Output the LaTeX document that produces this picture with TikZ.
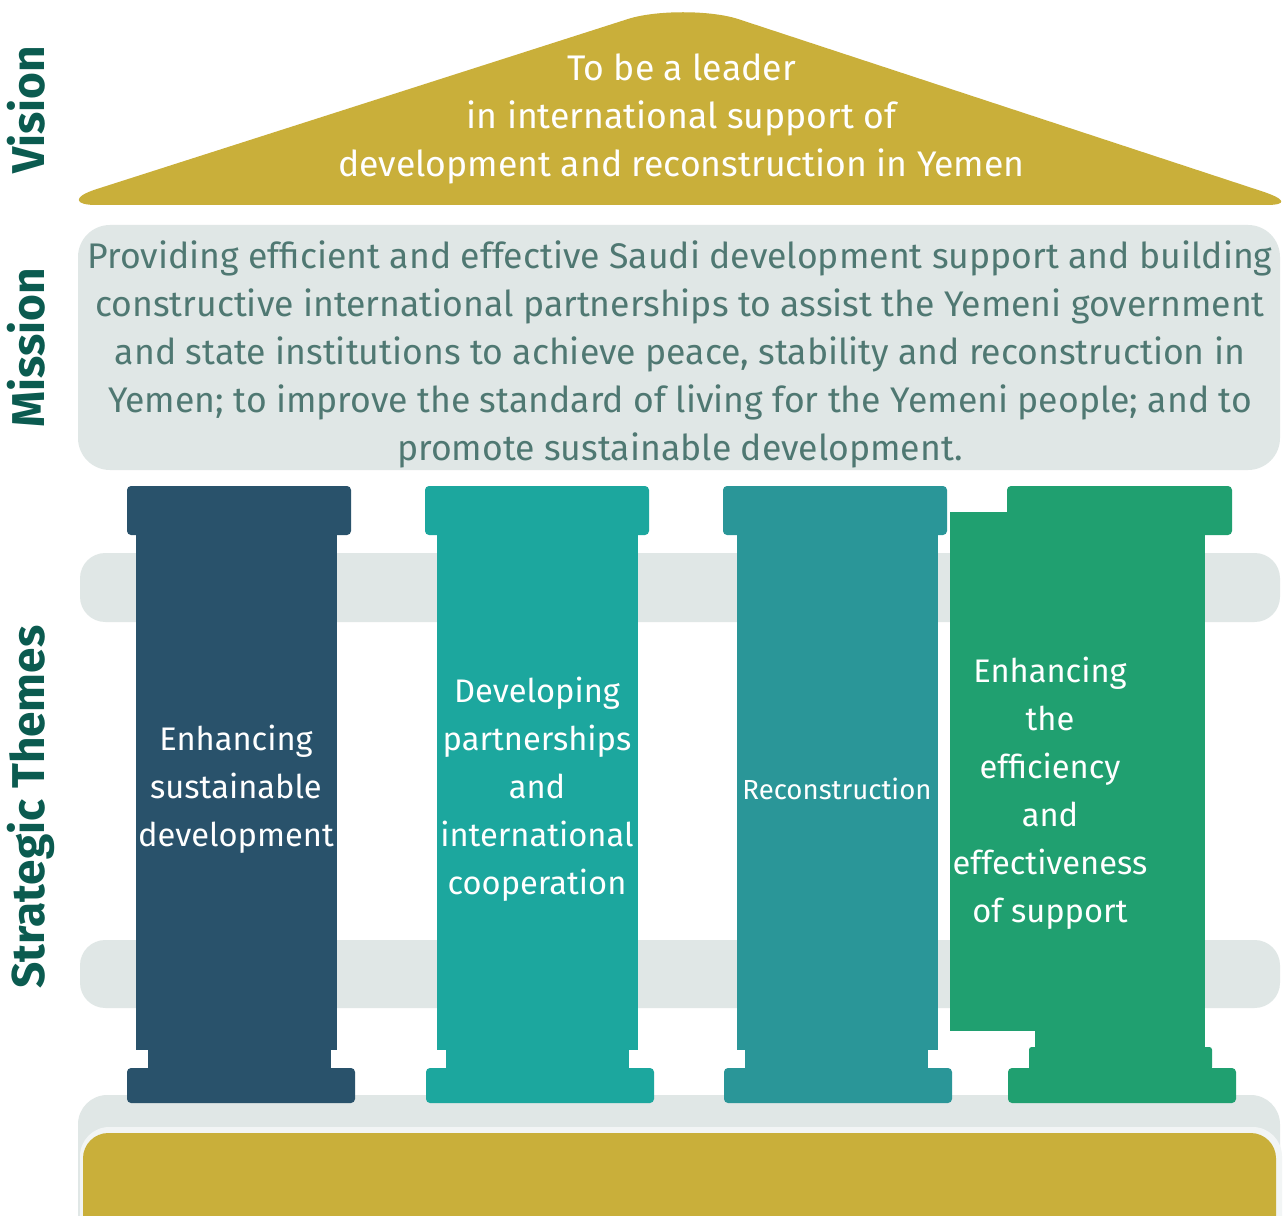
\documentclass[tikz,border=0pt]{standalone}
\usepackage{fontspec}
\setmainfont{Fira Sans}
\definecolor{gold}{HTML}{C9AF3A}
\definecolor{lightgray}{HTML}{E0E7E6}
\definecolor{paler}{HTML}{F2F5F5}
\definecolor{labelgreen}{HTML}{0B5B50}
\definecolor{missiontext}{HTML}{4F7872}
\definecolor{pone}{HTML}{29526B}
\definecolor{ptwo}{HTML}{1CA79E}
\definecolor{pthree}{HTML}{2A9698}
\definecolor{pfour}{HTML}{20A070}
\tikzset{
  sidelabel/.style={rotate=90, anchor=base, text=labelgreen, font=\fontsize{34.5}{40}\selectfont\bfseries, inner sep=0pt},
  bigtext/.style={align=center, inner sep=0pt, font=\fontsize{24.5}{36}\selectfont},
  toptext/.style={align=center, inner sep=0pt, font=\fontsize{26.7}{36}\selectfont},
  band/.style={fill=lightgray, rounded corners=19pt},
}
\begin{document}
\begin{tikzpicture}[x=0.75pt,y=-0.75pt]
\useasboundingbox (0,0) rectangle (1286,1216);
\clip (0,0) rectangle (1286,1216);
\fill[white] (0,0) rectangle (1286,1216);

% roof
\fill[gold] (683,205) -- (96,205) .. controls (74,205) and (72,197) .. (96,189.3)
  -- (628,19) .. controls (656,10) and (710,10) .. (738,19)
  -- (1262,191.3) .. controls (1286,199.2) and (1288,205) .. (1266,205) -- cycle;
\node[toptext, text=white] (vision) at (681.5,119) {To be a leader\\in international support of\\development and reconstruction in Yemen};

% mission
\fill[lightgray, rounded corners=24pt] (78,225) rectangle (1280,470);
\node[toptext, text=missiontext] (mission) at (680,354) {Providing efficient and effective Saudi development support and building\\constructive international partnerships to assist the Yemeni government\\and state institutions to achieve peace, stability and reconstruction in\\Yemen; to improve the standard of living for the Yemeni people; and to\\promote sustainable development.};

% bands
\fill[band] (80,553) rectangle (1280,622);
\fill[band] (80,940) rectangle (1280,1008);
\fill[lightgray, rounded corners=22pt] (78,1095) rectangle (1280,1260);
\fill[paler, rounded corners=22pt] (80,1127) rectangle (1282,1260);
\fill[gold, rounded corners=19pt] (83,1133) rectangle (1276,1260);

% pillar 1
\begin{scope}[pone]
\fill[rounded corners=3pt] (127,486) rectangle (351,535);
\fill (136,530) rectangle (337,1050);
\fill (148,1049) rectangle (331,1070);
\fill[rounded corners=3pt] (127,1068) rectangle (355,1103);
\end{scope}
% pillar 2
\begin{scope}[ptwo]
\fill[rounded corners=3pt] (425,486) rectangle (649,535);
\fill (437,530) rectangle (638,1050);
\fill (446,1049) rectangle (629,1070);
\fill[rounded corners=3pt] (426,1068) rectangle (654,1103);
\end{scope}
% pillar 3
\begin{scope}[pthree]
\fill[rounded corners=3pt] (723,486) rectangle (947,535);
\fill (737,530) rectangle (938,1050);
\fill (745,1049) rectangle (928,1070);
\fill[rounded corners=3pt] (724,1068) rectangle (952,1103);
\end{scope}
% pillar 4
\begin{scope}[pfour]
\fill[rounded corners=3pt] (1007,486) rectangle (1232,535);
\fill (1035,530) rectangle (1205,1049);
\fill (950,512) rectangle (1205,1031);
\fill[rounded corners=2pt] (1029,1047) rectangle (1212,1070);
\fill[rounded corners=3pt] (1008,1068) rectangle (1236,1103);
\end{scope}

% pillar texts
\node[bigtext, text=white] (t1) at (236,789) {Enhancing\\sustainable\\development};
\node[bigtext, text=white] (t2) at (537,789) {Developing\\partnerships\\and\\international\\cooperation};
\node[align=center, inner sep=0pt, text=white, font=\fontsize{20.7}{24}\selectfont] (t3) at (837,789) {Reconstruction};
\node[bigtext, text=white] (t4) at (1050,793) {Enhancing\\the\\efficiency\\and\\effectiveness\\of support};

% side labels
\node[sidelabel] (lv) at (45,110) {Vision};
\node[sidelabel] (lm) at (45,348) {Mission};
\node[sidelabel] (ls) at (45,807) {Strategic Themes};
\end{tikzpicture}
\end{document}
